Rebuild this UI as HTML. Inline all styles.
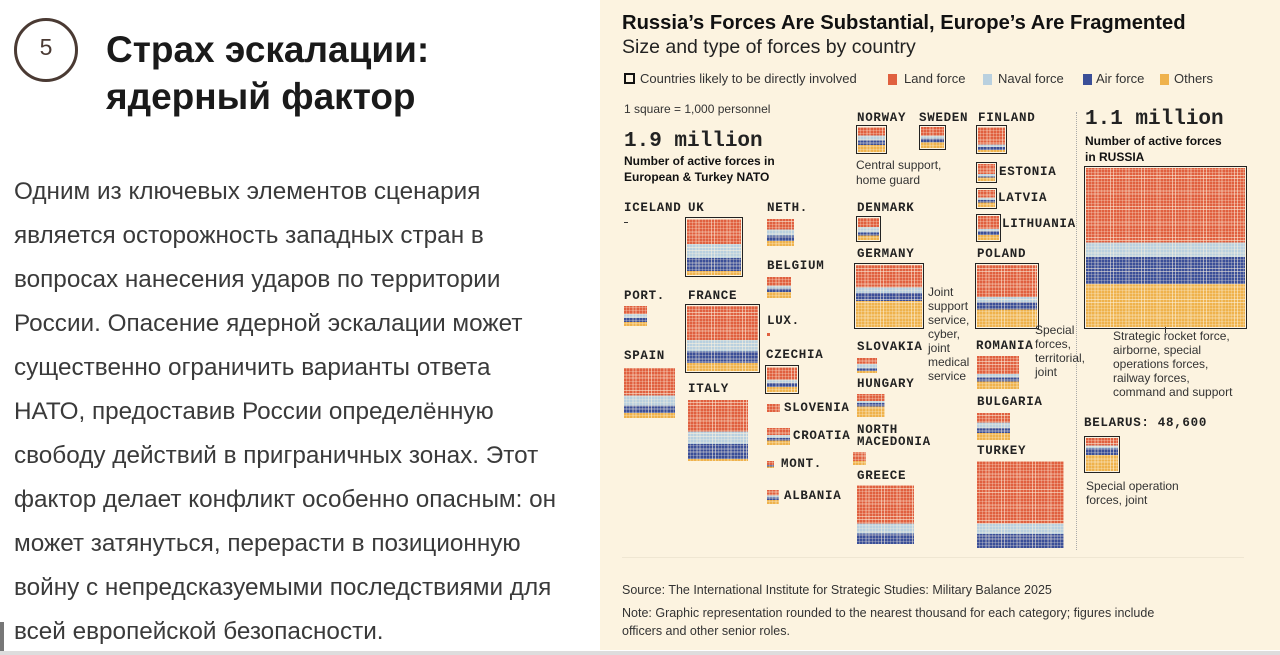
<!DOCTYPE html>
<html><head><meta charset="utf-8"><style>
*{margin:0;padding:0;box-sizing:border-box}
body{width:1280px;height:655px;background:#fff;position:relative;overflow:hidden;font-family:"Liberation Sans",sans-serif;color:#222}
.a{position:absolute;white-space:nowrap}
.panel{position:absolute;left:600px;top:0;width:680px;height:650px;background:#fcf3e0}
.m{font-family:"Liberation Mono",monospace;font-weight:bold;font-size:12.5px;letter-spacing:0.7px;color:#222}
.s{font-size:12px;color:#333;line-height:14px}
.w{position:absolute;background:
repeating-linear-gradient(90deg,transparent 0 2.4px,rgba(252,243,224,.55) 2.4px 3.1px),
repeating-linear-gradient(0deg,transparent 0 2.4px,rgba(252,243,224,.55) 2.4px 3.1px),
linear-gradient(to bottom,#e0603f 0 var(--a),#b9d0df var(--a) var(--b),#3b4f98 var(--b) var(--c),#efb24c var(--c) 100%)}
.o{outline:1.5px solid #222;outline-offset:1px}
.p{font-family:"Liberation Sans",sans-serif;font-size:24.3px;color:#3a3a3a;left:14px}
</style></head><body>
<div class="a" style="left:14px;top:18px;width:64px;height:64px;border:3px solid #4a3a33;border-radius:50%;"></div>
<div class="a" style="left:14px;top:34px;width:64px;text-align:center;font-size:23px;color:#4a3a33">5</div>
<div class="a" style="left:106px;top:29px;font-size:37px;font-weight:bold;color:#1a1a1a;transform:scaleX(1.0);transform-origin:left">Страх эскалации:</div>
<div class="a" style="left:106px;top:76px;font-size:37px;font-weight:bold;color:#1a1a1a;transform:scaleX(1.0);transform-origin:left">ядерный фактор</div>
<div class="a p" style="top:178px">Одним из ключевых элементов сценария</div>
<div class="a p" style="top:222px">является осторожность западных стран в</div>
<div class="a p" style="top:266px">вопросах нанесения ударов по территории</div>
<div class="a p" style="top:310px">России. Опасение ядерной эскалации может</div>
<div class="a p" style="top:354px">существенно ограничить варианты ответа</div>
<div class="a p" style="top:398px">НАТО, предоставив России определённую</div>
<div class="a p" style="top:442px">свободу действий в приграничных зонах. Этот</div>
<div class="a p" style="top:486px">фактор делает конфликт особенно опасным: он</div>
<div class="a p" style="top:530px">может затянуться, перерасти в позиционную</div>
<div class="a p" style="top:574px">войну с непредсказуемыми последствиями для</div>
<div class="a p" style="top:618px">всей европейской безопасности.</div>
<div class="a" style="left:0;top:622px;width:4px;height:30px;background:#777"></div>
<div class="a" style="left:0;top:651px;width:1280px;height:4px;background:#ddd"></div>

<div class="panel"></div>
<div class="a" style="left:622px;top:12px;font-size:20.2px;font-weight:bold;color:#111">Russia’s Forces Are Substantial, Europe’s Are Fragmented</div>
<div class="a" style="left:622px;top:36px;font-size:19.5px;color:#222">Size and type of forces by country</div>
<div class="a" style="left:624px;top:73px;width:11px;height:11px;border:2px solid #111"></div>
<div class="a s" style="left:640px;top:72px;font-size:13px">Countries likely to be directly involved</div>
<div class="a" style="left:888px;top:74px;width:9px;height:11px;background:#e0603f"></div><div class="a s" style="left:904px;top:72px;font-size:13px">Land force</div>
<div class="a" style="left:983px;top:74px;width:9px;height:11px;background:#b9d0df"></div><div class="a s" style="left:998px;top:72px;font-size:13px">Naval force</div>
<div class="a" style="left:1083px;top:74px;width:9px;height:11px;background:#3b4f98"></div><div class="a s" style="left:1096px;top:72px;font-size:13px">Air force</div>
<div class="a" style="left:1160px;top:74px;width:9px;height:11px;background:#efb24c"></div><div class="a s" style="left:1174px;top:72px;font-size:13px">Others</div>

<div class="a s" style="left:624px;top:102px">1 square = 1,000 personnel</div>
<div class="a" style="left:624px;top:130px;font-family:'Liberation Mono',monospace;font-weight:bold;font-size:21px">1.9 million</div>
<div class="a s" style="left:624px;top:153px;font-weight:bold;color:#111;line-height:16px">Number of active forces in<br>European &amp; Turkey NATO</div>

<div class="a m" style="left:624px;top:201px">ICELAND</div><div class="a" style="left:624px;top:222px;width:4px;height:1px;background:#333"></div>
<div class="a m" style="left:688px;top:201px">UK</div>
<div class="w o" style="left:687px;top:219px;width:54px;height:56px;--a:45%;--b:70%;--c:93%"></div>
<div class="a m" style="left:767px;top:201px">NETH.</div>
<div class="w" style="left:767px;top:219px;width:27px;height:27px;--a:38%;--b:62%;--c:82%"></div>
<div class="a m" style="left:767px;top:259px">BELGIUM</div>
<div class="w" style="left:767px;top:277px;width:24px;height:21px;--a:40%;--b:55%;--c:72%"></div>
<div class="a m" style="left:624px;top:289px">PORT.</div>
<div class="w" style="left:624px;top:306px;width:23px;height:20px;--a:40%;--b:60%;--c:80%"></div>
<div class="a m" style="left:688px;top:289px">FRANCE</div>
<div class="w o" style="left:687px;top:306px;width:71px;height:65px;--a:52%;--b:70%;--c:88%"></div>
<div class="a m" style="left:767px;top:314px">LUX.</div>
<div class="a" style="left:767px;top:333px;width:3px;height:3px;background:#e0603f"></div>
<div class="a m" style="left:624px;top:349px">SPAIN</div>
<div class="w" style="left:624px;top:368px;width:51px;height:50px;--a:55%;--b:75%;--c:90%"></div>
<div class="a m" style="left:688px;top:382px">ITALY</div>
<div class="w" style="left:688px;top:400px;width:60px;height:61px;--a:52%;--b:72%;--c:97%"></div>
<div class="a m" style="left:766px;top:348px">CZECHIA</div>
<div class="w o" style="left:767px;top:367px;width:30px;height:25px;--a:50%;--b:65%;--c:80%"></div>
<div class="w" style="left:767px;top:404px;width:13px;height:8px;--a:100%;--b:100%;--c:100%"></div><div class="a m" style="left:784px;top:401px">SLOVENIA</div>
<div class="w" style="left:767px;top:428px;width:23px;height:17px;--a:40%;--b:60%;--c:75%"></div><div class="a m" style="left:793px;top:429px">CROATIA</div>
<div class="w" style="left:767px;top:461px;width:7px;height:7px;--a:60%;--b:60%;--c:80%"></div><div class="a m" style="left:781px;top:457px">MONT.</div>
<div class="w" style="left:767px;top:490px;width:12px;height:14px;--a:40%;--b:55%;--c:70%"></div><div class="a m" style="left:784px;top:489px">ALBANIA</div>

<div class="a m" style="left:857px;top:111px">NORWAY</div>
<div class="w o" style="left:858px;top:127px;width:27px;height:25px;--a:35%;--b:55%;--c:72%"></div>
<div class="a s" style="left:856px;top:158px;line-height:15px">Central support,<br>home guard</div>
<div class="a m" style="left:919px;top:111px">SWEDEN</div>
<div class="w o" style="left:921px;top:127px;width:23px;height:21px;--a:40%;--b:55%;--c:75%"></div>
<div class="a m" style="left:978px;top:111px">FINLAND</div>
<div class="w o" style="left:978px;top:127px;width:27px;height:25px;--a:70%;--b:80%;--c:92%"></div>
<div class="w o" style="left:978px;top:164px;width:17px;height:17px;--a:60%;--b:75%;--c:80%"></div><div class="a m" style="left:999px;top:165px">ESTONIA</div>
<div class="w o" style="left:978px;top:190px;width:17px;height:17px;--a:45%;--b:60%;--c:75%"></div><div class="a m" style="left:998px;top:191px">LATVIA</div>
<div class="w o" style="left:978px;top:216px;width:21px;height:24px;--a:55%;--b:65%;--c:80%"></div><div class="a m" style="left:1002px;top:217px">LITHUANIA</div>
<div class="a m" style="left:857px;top:201px">DENMARK</div>
<div class="w o" style="left:858px;top:218px;width:21px;height:22px;--a:40%;--b:65%;--c:80%"></div>
<div class="a m" style="left:857px;top:247px">GERMANY</div>
<div class="w o" style="left:856px;top:265px;width:66px;height:62px;--a:36%;--b:45%;--c:58%"></div>
<div class="a s" style="left:928px;top:285px;line-height:14px">Joint<br>support<br>service,<br>cyber,<br>joint<br>medical<br>service</div>
<div class="a m" style="left:977px;top:247px">POLAND</div>
<div class="w o" style="left:977px;top:265px;width:60px;height:62px;--a:52%;--b:60%;--c:72%"></div>
<div class="a s" style="left:1035px;top:323px;line-height:14px">Special<br>forces,<br>territorial,<br>joint</div>
<div class="a m" style="left:857px;top:340px">SLOVAKIA</div>
<div class="w" style="left:857px;top:358px;width:20px;height:15px;--a:40%;--b:70%;--c:85%"></div>
<div class="a m" style="left:857px;top:377px">HUNGARY</div>
<div class="w" style="left:857px;top:394px;width:28px;height:23px;--a:30%;--b:40%;--c:55%"></div>
<div class="a m" style="left:857px;top:424px;line-height:12px">NORTH<br>MACEDONIA</div>
<div class="w" style="left:853px;top:452px;width:13px;height:13px;--a:70%;--b:70%;--c:70%"></div>
<div class="a m" style="left:857px;top:469px">GREECE</div>
<div class="w" style="left:857px;top:485px;width:57px;height:59px;--a:65%;--b:82%;--c:100%"></div>
<div class="a m" style="left:976px;top:339px">ROMANIA</div>
<div class="w" style="left:977px;top:356px;width:42px;height:33px;--a:55%;--b:65%;--c:78%"></div>
<div class="a m" style="left:977px;top:395px">BULGARIA</div>
<div class="w" style="left:977px;top:413px;width:33px;height:27px;--a:35%;--b:55%;--c:75%"></div>
<div class="a m" style="left:977px;top:444px">TURKEY</div>
<div class="w" style="left:977px;top:461px;width:87px;height:87px;--a:72%;--b:84%;--c:100%"></div>

<div class="a" style="left:1076px;top:112px;height:438px;border-left:1px dotted #aaa"></div>
<div class="a" style="left:1085px;top:108px;font-family:'Liberation Mono',monospace;font-weight:bold;font-size:21px">1.1 million</div>
<div class="a s" style="left:1085px;top:133px;font-weight:bold;color:#111;line-height:16px">Number of active forces<br>in RUSSIA</div>
<div class="w o" style="left:1086px;top:168px;width:159px;height:159px;--a:47%;--b:56%;--c:73%"></div>
<div class="a" style="left:1165px;top:327px;width:1px;height:6px;background:#333"></div>
<div class="a s" style="left:1113px;top:329px;line-height:14px">Strategic rocket force,<br>airborne, special<br>operations forces,<br>railway forces,<br>command and support</div>
<div class="a m" style="left:1084px;top:416px">BELARUS: 48,600</div>
<div class="w o" style="left:1086px;top:438px;width:32px;height:33px;--a:22%;--b:32%;--c:52%"></div>
<div class="a s" style="left:1086px;top:479px;line-height:14px">Special operation<br>forces, joint</div>

<div class="a" style="left:622px;top:557px;width:622px;height:1px;background:#efe6d2"></div>
<div class="a s" style="left:622px;top:583px;font-size:12.5px">Source: The International Institute for Strategic Studies: Military Balance 2025</div>
<div class="a s" style="left:622px;top:604px;font-size:12.5px;line-height:18px">Note: Graphic representation rounded to the nearest thousand for each category; figures include<br>officers and other senior roles.</div>
</body></html>
